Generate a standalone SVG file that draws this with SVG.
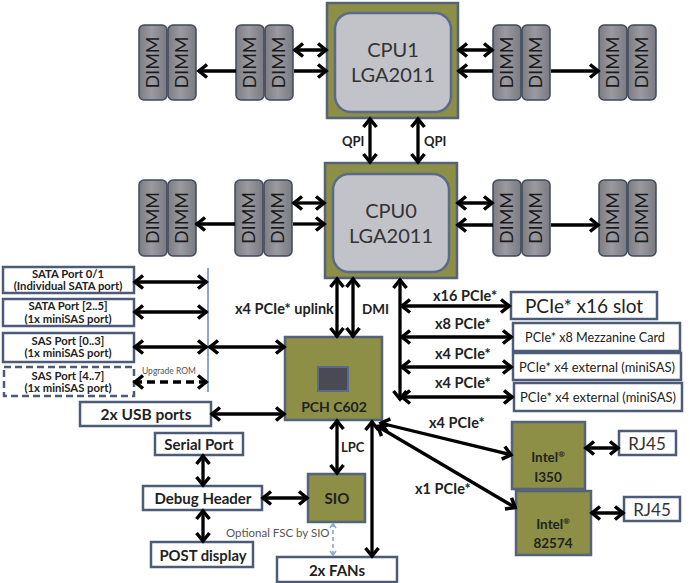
<svg xmlns="http://www.w3.org/2000/svg" width="690" height="583" viewBox="0 0 690 583">
<style>
text{font-family:Lato,"Open Sans","Liberation Sans",sans-serif;fill:#222;}
.b{font-weight:bold;}
.box{fill:#fff;stroke:#4d5b78;stroke-width:2.5;}
.dbox{fill:#fff;stroke:#4d5b78;stroke-width:2.5;stroke-dasharray:7 4;}
.olive{fill:#8c8f45;stroke:#56627a;stroke-width:2.5;}
.cpuin{fill:#c2c2c9;stroke:#5a6a8a;stroke-width:2.5;}
.dimm{fill:url(#dg);stroke:#3f4a5c;stroke-width:1.5;}
.dt{font-size:18px;fill:#1a1a1a;}
.a{stroke:#000;stroke-width:3.3;fill:none;}
.s{marker-end:url(#ah);}
.d{marker-start:url(#ah);marker-end:url(#ah);}
.bl{stroke:#8aa4d4;stroke-width:1.6;fill:none;stroke-dasharray:4 3;marker-start:url(#ahb);marker-end:url(#ahb);}
.st{font-weight:bold;font-size:11.3px;}
</style>
<defs>
<linearGradient id="dg" x1="0" y1="0" x2="1" y2="0">
<stop offset="0" stop-color="#7c7c82"/><stop offset="0.45" stop-color="#9a9aa0"/><stop offset="1" stop-color="#7a7a80"/>
</linearGradient>
<marker id="ah" viewBox="0 0 14 16" refX="12" refY="8" markerWidth="14" markerHeight="16" markerUnits="userSpaceOnUse" orient="auto-start-reverse" overflow="visible">
<path d="M3,1.5 L11,8 L3,14.5" fill="none" stroke="#000" stroke-width="3.5"/>
</marker>
<marker id="ahb" viewBox="0 0 8 8" refX="7" refY="4" markerWidth="8" markerHeight="8" markerUnits="userSpaceOnUse" orient="auto-start-reverse" overflow="visible">
<path d="M2,1 L6.5,4 L2,7" fill="none" stroke="#8aa4d4" stroke-width="1.4"/>
</marker>
</defs>
<rect width="690" height="583" fill="#fff"/>

<!-- DIMMs top row -->
<g id="dimm-t1">
<rect class="dimm" x="139" y="25" width="28" height="75" rx="5"/><rect class="dimm" x="168" y="25" width="28" height="75" rx="5"/>
<text class="dt" transform="translate(159,62.5) rotate(-90)" text-anchor="middle">DIMM</text>
<text class="dt" transform="translate(188,62.5) rotate(-90)" text-anchor="middle">DIMM</text>
</g>
<g id="dimm-t2">
<rect class="dimm" x="236" y="25" width="28" height="75" rx="5"/><rect class="dimm" x="265" y="25" width="28" height="75" rx="5"/>
<text class="dt" transform="translate(256,62.5) rotate(-90)" text-anchor="middle">DIMM</text>
<text class="dt" transform="translate(285,62.5) rotate(-90)" text-anchor="middle">DIMM</text>
</g>
<g id="dimm-t3">
<rect class="dimm" x="493" y="25" width="28" height="75" rx="5"/><rect class="dimm" x="522" y="25" width="28" height="75" rx="5"/>
<text class="dt" transform="translate(513,62.5) rotate(-90)" text-anchor="middle">DIMM</text>
<text class="dt" transform="translate(542,62.5) rotate(-90)" text-anchor="middle">DIMM</text>
</g>
<g id="dimm-t4">
<rect class="dimm" x="599" y="25" width="28" height="75" rx="5"/><rect class="dimm" x="628" y="25" width="28" height="75" rx="5"/>
<text class="dt" transform="translate(619,62.5) rotate(-90)" text-anchor="middle">DIMM</text>
<text class="dt" transform="translate(648,62.5) rotate(-90)" text-anchor="middle">DIMM</text>
</g>

<!-- DIMMs second row -->
<g id="dimm-b1">
<rect class="dimm" x="139" y="180" width="28" height="76" rx="5"/><rect class="dimm" x="168" y="180" width="28" height="76" rx="5"/>
<text class="dt" transform="translate(159,218) rotate(-90)" text-anchor="middle">DIMM</text>
<text class="dt" transform="translate(188,218) rotate(-90)" text-anchor="middle">DIMM</text>
</g>
<g id="dimm-b2">
<rect class="dimm" x="235" y="180" width="28" height="76" rx="5"/><rect class="dimm" x="264" y="180" width="28" height="76" rx="5"/>
<text class="dt" transform="translate(255,218) rotate(-90)" text-anchor="middle">DIMM</text>
<text class="dt" transform="translate(284,218) rotate(-90)" text-anchor="middle">DIMM</text>
</g>
<g id="dimm-b3">
<rect class="dimm" x="493" y="180" width="28" height="76" rx="5"/><rect class="dimm" x="522" y="180" width="28" height="76" rx="5"/>
<text class="dt" transform="translate(513,218) rotate(-90)" text-anchor="middle">DIMM</text>
<text class="dt" transform="translate(542,218) rotate(-90)" text-anchor="middle">DIMM</text>
</g>
<g id="dimm-b4">
<rect class="dimm" x="599" y="180" width="28" height="76" rx="5"/><rect class="dimm" x="628" y="180" width="28" height="76" rx="5"/>
<text class="dt" transform="translate(619,218) rotate(-90)" text-anchor="middle">DIMM</text>
<text class="dt" transform="translate(648,218) rotate(-90)" text-anchor="middle">DIMM</text>
</g>

<!-- CPUs -->
<g id="cpu1">
<rect class="olive" x="327" y="3" width="131" height="115"/>
<rect class="cpuin" x="335" y="13" width="116" height="99" rx="16"/>
<text x="393" y="57" font-size="20" text-anchor="middle" style="fill:#333">CPU1</text>
<text x="393" y="82" font-size="20" text-anchor="middle" style="fill:#333">LGA2011</text>
</g>
<g id="cpu0">
<rect class="olive" x="325" y="163" width="132" height="115"/>
<rect class="cpuin" x="333" y="174" width="116" height="98" rx="16"/>
<text x="391" y="218" font-size="20" text-anchor="middle" style="fill:#333">CPU0</text>
<text x="391" y="243" font-size="20" text-anchor="middle" style="fill:#333">LGA2011</text>
</g>

<!-- PCH -->
<g id="pch">
<rect class="olive" x="285" y="337" width="97" height="83"/>
<rect x="318" y="367" width="30" height="24" fill="#4a4a55" stroke="#5a6a8a" stroke-width="2"/>
<text class="b" x="334" y="412" font-size="14" text-anchor="middle">PCH C602</text>
</g>

<!-- Left storage -->
<g id="sata01">
<rect class="box" x="3" y="267" width="131" height="26"/>
<text class="st" x="68" y="278" text-anchor="middle">SATA Port 0/1</text>
<text class="st" x="68" y="290" text-anchor="middle">(Individual SATA port)</text>
</g>
<g id="sata25">
<rect class="box" x="3" y="299" width="131" height="27"/>
<text class="st" x="68" y="310" text-anchor="middle">SATA Port [2..5]</text>
<text class="st" x="68" y="323" text-anchor="middle">(1x miniSAS port)</text>
</g>
<g id="sas03">
<rect class="box" x="3" y="333" width="131" height="29"/>
<text class="st" x="68" y="345" text-anchor="middle">SAS Port [0..3]</text>
<text class="st" x="68" y="357" text-anchor="middle">(1x miniSAS port)</text>
</g>
<g id="sas47">
<rect class="dbox" x="4" y="367" width="130" height="29"/>
<text class="st" x="68" y="380" text-anchor="middle">SAS Port [4..7]</text>
<text class="st" x="68" y="392" text-anchor="middle">(1x miniSAS port)</text>
</g>
<g id="usb">
<rect class="box" x="80" y="402" width="131" height="24"/>
<text class="b" x="146" y="420" font-size="15.5" text-anchor="middle">2x USB ports</text>
</g>

<!-- Right PCIe boxes -->
<g id="x16slot">
<rect class="box" x="511" y="292" width="146" height="27"/>
<text x="584" y="313" font-size="19" text-anchor="middle">PCIe* x16 slot</text>
</g>
<g id="mezz">
<rect class="box" x="513" y="323" width="167" height="28"/>
<text x="595" y="341.5" font-size="12.6" text-anchor="middle">PCIe* x8 Mezzanine Card</text>
</g>
<g id="ext1">
<rect class="box" x="513" y="353" width="168" height="27"/>
<text x="597" y="371.5" font-size="13" text-anchor="middle">PCIe* x4 external (miniSAS)</text>
</g>
<g id="ext2">
<rect class="box" x="514" y="383" width="168" height="28"/>
<text x="598" y="401.5" font-size="13" text-anchor="middle">PCIe* x4 external (miniSAS)</text>
</g>

<!-- NICs -->
<g id="i350">
<rect class="olive" x="512" y="422" width="73" height="67"/>
<text class="b" x="548" y="462" font-size="13.5" text-anchor="middle">Intel<tspan font-size="8" dy="-5">®</tspan></text>
<text class="b" x="548" y="482" font-size="13.5" text-anchor="middle">I350</text>
</g>
<g id="i82574">
<rect class="olive" x="516" y="491" width="75" height="64"/>
<text class="b" x="553" y="529" font-size="13.5" text-anchor="middle">Intel<tspan font-size="8" dy="-5">®</tspan></text>
<text class="b" x="553" y="548" font-size="13.5" text-anchor="middle">82574</text>
</g>
<g id="rj45a">
<rect class="box" x="619" y="431" width="57" height="24"/>
<text x="647" y="450" font-size="17" text-anchor="middle" style="fill:#333">RJ45</text>
</g>
<g id="rj45b">
<rect class="box" x="624" y="497" width="56" height="24"/>
<text x="652" y="516" font-size="17" text-anchor="middle" style="fill:#333">RJ45</text>
</g>

<!-- Bottom left -->
<g id="serial">
<rect class="box" x="155" y="433" width="88" height="22"/>
<text class="b" x="199" y="449.5" font-size="15" text-anchor="middle">Serial Port</text>
</g>
<g id="debug">
<rect class="box" x="143" y="486" width="119" height="24"/>
<text class="b" x="203" y="503.5" font-size="15" text-anchor="middle">Debug Header</text>
</g>
<g id="post">
<rect class="box" x="151" y="542" width="102" height="25"/>
<text class="b" x="203" y="560.5" font-size="14.8" text-anchor="middle">POST display</text>
</g>
<g id="sio">
<rect class="olive" x="308" y="474" width="57" height="48"/>
<text class="b" x="337" y="503.5" font-size="15" text-anchor="middle">SIO</text>
</g>
<g id="fans">
<rect class="box" x="277" y="557" width="120" height="25"/>
<text class="b" x="337" y="575.5" font-size="15" text-anchor="middle">2x FANs</text>
</g>

<!-- Connectors -->
<g id="connectors">
<!-- top row -->
<line class="a s" x1="236" y1="71" x2="198" y2="71"/>
<line class="a d" x1="294" y1="50" x2="327" y2="50"/>
<line class="a s" x1="294" y1="71" x2="327" y2="71"/>
<line class="a d" x1="458" y1="50" x2="493" y2="50"/>
<line class="a s" x1="493" y1="71" x2="458" y2="71"/>
<line class="a s" x1="551" y1="71" x2="599" y2="71"/>
<!-- QPI -->
<line class="a d" x1="370" y1="118" x2="370" y2="163"/>
<line class="a d" x1="418" y1="118" x2="418" y2="163"/>
<!-- second row -->
<line class="a s" x1="235" y1="224" x2="196" y2="224"/>
<line class="a d" x1="293" y1="203" x2="325" y2="203"/>
<line class="a s" x1="293" y1="224" x2="325" y2="224"/>
<line class="a d" x1="457" y1="203" x2="493" y2="203"/>
<line class="a s" x1="493" y1="225" x2="457" y2="225"/>
<line class="a s" x1="551" y1="225" x2="599" y2="225"/>
<!-- CPU0 to PCH -->
<line class="a d" x1="337" y1="278" x2="337" y2="337"/>
<line class="a d" x1="353" y1="278" x2="353" y2="337"/>
<!-- PCIe bus -->
<line class="a d" x1="400" y1="279" x2="400" y2="400"/>
<line class="a d" x1="401" y1="306" x2="510" y2="306"/>
<line class="a d" x1="401" y1="337" x2="512" y2="337"/>
<line class="a d" x1="401" y1="367" x2="512" y2="367"/>
<line class="a d" x1="401" y1="397" x2="513" y2="397"/>
<!-- storage -->
<line x1="208" y1="268" x2="208" y2="392" stroke="#8aa4d4" stroke-width="2"/>
<line class="a d" x1="134" y1="282" x2="207" y2="282"/>
<line class="a d" x1="134" y1="312" x2="207" y2="312"/>
<line class="a d" x1="134" y1="347" x2="207" y2="347"/>
<line class="a d" x1="134" y1="382" x2="207" y2="382" stroke-dasharray="8 5"/>
<line class="a d" x1="209" y1="347" x2="285" y2="347"/>
<line class="a d" x1="211" y1="414" x2="285" y2="414"/>
<!-- PCH down -->
<line class="a d" x1="337" y1="420" x2="337" y2="474"/>
<line class="a d" x1="372" y1="421" x2="372" y2="557"/>
<line class="a d" x1="380" y1="423" x2="512" y2="455"/>
<line class="a d" x1="377" y1="426" x2="516" y2="508"/>
<!-- NIC to RJ45 -->
<line class="a d" x1="585" y1="448" x2="619" y2="448"/>
<line class="a d" x1="591" y1="513" x2="624" y2="513"/>
<!-- bottom left -->
<line class="a d" x1="203" y1="455" x2="203" y2="486"/>
<line class="a d" x1="203" y1="510" x2="203" y2="542"/>
<line class="a d" x1="262" y1="498" x2="308" y2="498"/>
<line class="bl" x1="333" y1="523" x2="333" y2="556"/>
</g>

<!-- Connector labels -->
<g id="labels">
<text class="b" x="342" y="146" font-size="13">QPI</text>
<text class="b" x="424" y="146" font-size="13">QPI</text>
<text class="b" x="235" y="314" font-size="14.5">x4 PCIe* uplink</text>
<text class="b" x="362" y="314" font-size="13.5">DMI</text>
<text class="b" x="433" y="301" font-size="14.5">x16 PCIe*</text>
<text class="b" x="435" y="329" font-size="14.5">x8 PCIe*</text>
<text class="b" x="435" y="359" font-size="14.5">x4 PCIe*</text>
<text class="b" x="435" y="388" font-size="14.5">x4 PCIe*</text>
<text class="b" x="429" y="428" font-size="14.5">x4 PCIe*</text>
<text class="b" x="415" y="494" font-size="14.5">x1 PCIe*</text>
<text class="b" x="341" y="452" font-size="13">LPC</text>
<text x="142" y="374" font-size="8.5" style="fill:#555">Upgrade ROM</text>
<text x="226" y="537" font-size="11.5" style="fill:#555">Optional FSC by SIO</text>
</g>
</svg>
